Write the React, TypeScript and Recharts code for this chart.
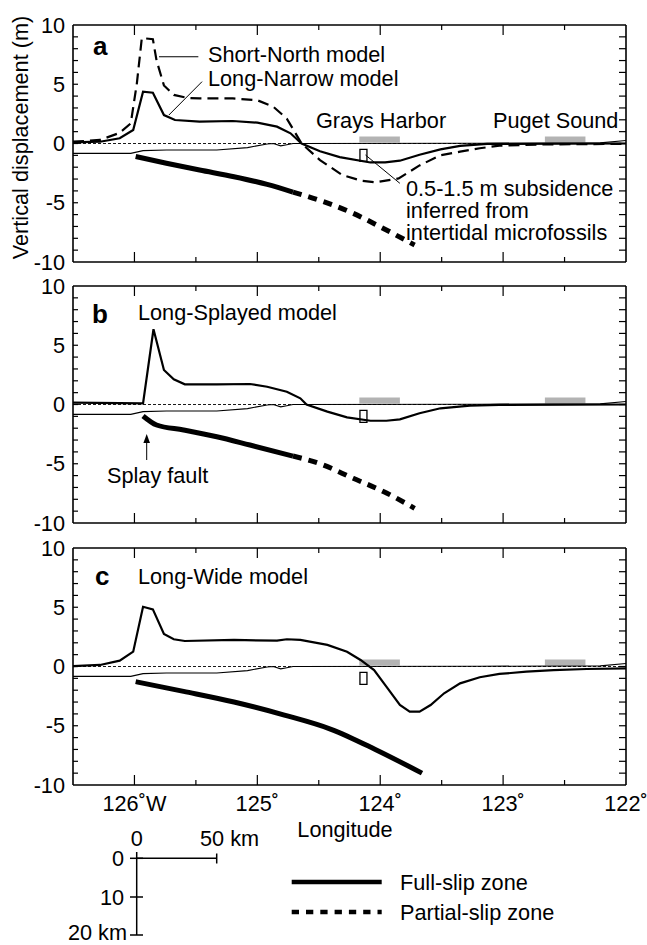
import React from "react";
import { ComposedChart, Line, XAxis, YAxis, ReferenceLine, ReferenceArea } from "recharts";

const FONT = "'Liberation Sans', Arial, Helvetica, sans-serif";
const FS = 21.7;

// axes
const lonDomain = [-126.5, -122];
const dispDomain = [-10, 10];
const lonMajor = [-126, -125, -124, -123, -122];
const lonMinor = [-125.5, -124.5, -123.5, -122.5];
const lonLabels: Record<string, string> = {
  "-126": "126˚W",
  "-125": "125˚",
  "-124": "124˚",
  "-123": "123˚",
  "-122": "122˚",
};
const dispTicks = [-10, -9, -8, -7, -6, -5, -4, -3, -2, -1, 0, 1, 2, 3, 4, 5, 6, 7, 8, 9, 10];

type Pt = [number, number]; // [longitude, vertical displacement m]

// panel a
const shortNorth: Pt[] = [
  [-126.5, 0.15], [-126.28, 0.3], [-126.12, 0.9], [-126.03, 1.7], [-125.98, 5.1], [-125.94, 8.9],
  [-125.85, 8.8], [-125.82, 7.0], [-125.76, 4.9], [-125.68, 4.1], [-125.57, 3.85], [-125.47, 3.8],
  [-125.2, 3.8], [-125.0, 3.65], [-124.87, 3.1], [-124.76, 2.1], [-124.64, 0.0], [-124.49, -1.4],
  [-124.31, -2.65], [-124.15, -3.15], [-124.04, -3.28], [-123.85, -2.95], [-123.68, -1.85],
  [-123.51, -1.0], [-123.35, -0.69], [-123.19, -0.4], [-123.03, -0.18], [-122.7, -0.08], [-122.0, -0.03],
];
const longNarrow: Pt[] = [
  [-126.5, 0.1], [-126.28, 0.15], [-126.12, 0.44], [-126.01, 1.14], [-125.93, 4.37], [-125.85, 4.29],
  [-125.76, 2.4], [-125.67, 1.98], [-125.47, 1.84], [-125.2, 1.9], [-125.0, 1.76], [-124.84, 1.42],
  [-124.73, 0.86], [-124.64, 0.0], [-124.49, -0.65], [-124.33, -1.15], [-124.08, -1.6], [-123.96, -1.6],
  [-123.84, -1.45], [-123.68, -0.95], [-123.51, -0.5], [-123.35, -0.2], [-123.13, -0.04], [-122.0, 0],
];
const faultFullA: Pt[] = [
  [-125.99, -1.1], [-125.74, -1.67], [-125.47, -2.24], [-125.19, -2.8], [-124.92, -3.45], [-124.71, -4.1],
];
const faultPartialA: Pt[] = [
  [-124.71, -4.1], [-124.45, -4.95], [-124.22, -5.89], [-123.95, -7.3], [-123.72, -8.57],
];

// panel b
const longSplayed: Pt[] = [
  [-126.5, 0.15], [-125.93, 0.1], [-125.845, 6.35], [-125.76, 2.91], [-125.68, 2.13], [-125.59, 1.7],
  [-125.33, 1.7], [-125.06, 1.73], [-124.92, 1.5], [-124.76, 1.08], [-124.65, 0.52], [-124.6, 0.0],
  [-124.43, -0.6], [-124.27, -1.08], [-124.08, -1.37], [-123.95, -1.37], [-123.84, -1.25],
  [-123.68, -0.74], [-123.51, -0.32], [-123.27, -0.1], [-123.03, -0.03], [-122.0, 0],
];
const faultFullB: Pt[] = [
  [-125.93, -0.97], [-125.82, -1.73], [-125.6, -2.15], [-125.33, -2.72], [-125.06, -3.42], [-124.71, -4.35],
];
const faultPartialB: Pt[] = [
  [-124.71, -4.35], [-124.49, -5.0], [-124.22, -6.23], [-123.97, -7.36], [-123.72, -8.76],
];

// panel c
const longWide: Pt[] = [
  [-126.5, 0.04], [-126.28, 0.13], [-126.12, 0.49], [-126.01, 1.25], [-125.93, 5.04], [-125.85, 4.82],
  [-125.76, 2.74], [-125.68, 2.3], [-125.59, 2.15], [-125.19, 2.24], [-124.84, 2.18], [-124.76, 2.3],
  [-124.65, 2.24], [-124.43, 1.82], [-124.27, 1.25], [-124.16, 0.55], [-124.05, -0.3], [-123.95, -1.7],
  [-123.84, -3.25], [-123.76, -3.81], [-123.68, -3.81], [-123.59, -3.25], [-123.48, -2.26],
  [-123.35, -1.42], [-123.19, -0.91], [-123.03, -0.63], [-122.81, -0.44], [-122.59, -0.3],
  [-122.32, -0.21], [-122.0, -0.15],
];
const faultFullC: Pt[] = [
  [-125.99, -1.28], [-125.6, -2.1], [-125.19, -3.0], [-124.78, -4.1], [-124.4, -5.3],
  [-124.04, -7.0], [-123.66, -9.0],
];

// shared thin line
const seafloor: Pt[] = [
  [-126.5, -0.83], [-126.03, -0.83], [-125.93, -0.6], [-125.74, -0.55], [-125.33, -0.55],
  [-125.08, -0.35], [-124.92, -0.04], [-124.87, 0], [-124.81, -0.2], [-124.76, -0.1], [-124.71, 0],
  [-123.19, 0.02], [-122.21, 0.05], [-122.0, 0.25],
];

// observation sites / subsidence box
const graysHarbor = [-124.17, -123.84];
const pugetSound = [-122.66, -122.33];
const siteBar = [0.08, 0.6];
const subsidenceLon = [-124.165, -124.108];
const subsidenceRange = [-1.5, -0.5];

const rows = (pts: Pt[]) => pts.map(([lon, v]) => ({ lon, v }));

// plot area is 553 x 237 px -> data units per pixel, for the inward tick marks
const LON_PER_PX = (lonDomain[1] - lonDomain[0]) / 553;
const DISP_PER_PX = (dispDomain[1] - dispDomain[0]) / 237;

const frame = { stroke: "#000", strokeWidth: 1.6 };
const tickFont = { fontSize: FS, fontFamily: FONT, fill: "#000" };
const txt = { fontFamily: FONT, fontSize: FS, fill: "#000" };

function series(pts: Pt[], width: number, dash?: string, curve: "linear" | "monotone" = "linear") {
  return (
    <Line
      data={rows(pts)}
      dataKey="v"
      type={curve}
      stroke="#000"
      strokeWidth={width}
      strokeDasharray={dash}
      dot={false}
      activeDot={false}
      isAnimationActive={false}
    />
  );
}

function tick(key: string, a: { x: number; y: number }, b: { x: number; y: number }) {
  return <ReferenceLine key={key} segment={[a, b]} stroke="#000" strokeWidth={1.2} ifOverflow="visible" />;
}

// inward tick marks on all four sides
function innerTicks() {
  const [x0, x1] = lonDomain;
  const [y0, y1] = dispDomain;
  const out: any[] = [];
  dispTicks
    .filter((v) => v > y0 && v < y1)
    .forEach((v) => {
      out.push(tick(`l${v}`, { x: x0, y: v }, { x: x0 + 5 * LON_PER_PX, y: v }));
      out.push(tick(`r${v}`, { x: x1, y: v }, { x: x1 - 7 * LON_PER_PX, y: v }));
    });
  [...lonMajor, ...lonMinor]
    .filter((v) => v > x0 && v < x1)
    .forEach((v) => {
      const len = (Number.isInteger(v) ? 10 : 5) * DISP_PER_PX;
      out.push(tick(`b${v}`, { x: v, y: y0 }, { x: v, y: y0 + len }));
      out.push(tick(`t${v}`, { x: v, y: y1 }, { x: v, y: y1 - len }));
    });
  return out;
}

function Panel({ top, height, bottomPad, labelled, children }: any) {
  return (
    <div style={{ position: "absolute", left: 0, top }}>
      <ComposedChart width={647} height={height} margin={{ top: 24, right: 20, bottom: bottomPad, left: 0 }}>
        <XAxis
          dataKey="lon"
          type="number"
          domain={lonDomain}
          ticks={lonMajor}
          interval={0}
          height={1}
          orientation="bottom"
          tickSize={0}
          tickMargin={10.6}
          tickLine={false}
          axisLine={frame}
          allowDataOverflow
          tick={labelled ? tickFont : false}
          tickFormatter={(v: number) => lonLabels[String(v)] ?? ""}
        />
        <XAxis
          xAxisId="top"
          dataKey="lon"
          type="number"
          domain={lonDomain}
          ticks={lonMajor}
          height={1}
          orientation="top"
          tickLine={false}
          axisLine={frame}
          allowDataOverflow
          tick={false}
        />
        <YAxis
          type="number"
          domain={dispDomain}
          ticks={dispTicks}
          interval={0}
          width={73}
          tickSize={0}
          tickMargin={8}
          tickLine={false}
          axisLine={frame}
          allowDataOverflow
          tick={tickFont}
          tickFormatter={(v: number) => (v % 5 === 0 ? String(v) : "")}
        />
        <YAxis
          yAxisId="right"
          orientation="right"
          type="number"
          domain={dispDomain}
          ticks={dispTicks}
          width={1}
          tickLine={false}
          axisLine={frame}
          allowDataOverflow
          tick={false}
        />
        <ReferenceArea x1={graysHarbor[0]} x2={graysHarbor[1]} y1={siteBar[0]} y2={siteBar[1]} fill="#b3b3b3" fillOpacity={1} stroke="none" />
        <ReferenceArea x1={pugetSound[0]} x2={pugetSound[1]} y1={siteBar[0]} y2={siteBar[1]} fill="#b3b3b3" fillOpacity={1} stroke="none" />
        <ReferenceLine y={0} stroke="#000" strokeWidth={0.9} strokeDasharray="3 2" />
        <ReferenceArea
          x1={subsidenceLon[0]}
          x2={subsidenceLon[1]}
          y1={subsidenceRange[0]}
          y2={subsidenceRange[1]}
          fill="none"
          fillOpacity={0}
          stroke="#000"
          strokeWidth={1.3}
        />
        {innerTicks()}
        {series(seafloor, 1.1)}
        {children}
      </ComposedChart>
    </div>
  );
}

export default function App() {
  return (
    <div style={{ position: "absolute", left: 0, top: 0, width: 647, height: 945, background: "#fff" }}>
      <Panel top={0} height={275} bottomPad={12} labelled={false}>
        {series(shortNorth, 2.2, "11 6")}
        {series(longNarrow, 2.2)}
        {series(faultFullA, 5, undefined, "monotone")}
        {series(faultPartialA, 5, "9 7", "monotone")}
        <ReferenceLine segment={[{ x: -125.8, y: 7.32 }, { x: -125.48, y: 7.32 }]} stroke="#000" strokeWidth={1} />
        <ReferenceLine segment={[{ x: -125.72, y: 2.4 }, { x: -125.45, y: 5.22 }]} stroke="#000" strokeWidth={1} />
        <ReferenceLine segment={[{ x: -124.12, y: -0.97 }, { x: -123.84, y: -3.36 }]} stroke="#000" strokeWidth={1} />
      </Panel>
      <Panel top={261} height={275} bottomPad={12} labelled={false}>
        {series(longSplayed, 2.2)}
        {series(faultFullB, 5, undefined, "monotone")}
        {series(faultPartialB, 5, "9 7", "monotone")}
      </Panel>
      <Panel top={523} height={422} bottomPad={159} labelled={true}>
        {series(longWide, 2.2)}
        {series(faultFullC, 5, undefined, "monotone")}
      </Panel>

      <svg width={647} height={945} style={{ position: "absolute", left: 0, top: 0, pointerEvents: "none" }}>
        <text x={28} y={137.5} transform="rotate(-90 28 137.5)" textAnchor="middle" {...txt}>
          Vertical displacement (m)
        </text>

        <text x={93} y={55} {...txt} fontSize={26} fontWeight="bold">a</text>
        <text x={208} y={62} {...txt}>Short-North model</text>
        <text x={208} y={86} {...txt}>Long-Narrow model</text>
        <text x={316} y={128} {...txt}>Grays Harbor</text>
        <text x={493} y={128} {...txt}>Puget Sound</text>
        <text x={406} y={196} {...txt}>0.5-1.5 m subsidence</text>
        <text x={406} y={218} {...txt}>inferred from</text>
        <text x={406} y={240} {...txt}>intertidal microfossils</text>

        <text x={92} y={323} {...txt} fontSize={26} fontWeight="bold">b</text>
        <text x={138} y={319.5} {...txt}>Long-Splayed model</text>
        <line x1={146.7} y1={460} x2={146.7} y2={440} stroke="#000" strokeWidth={1} />
        <path d="M146.7 434 L143.4 443 L150 443 Z" fill="#000" />
        <text x={107} y={483} {...txt}>Splay fault</text>

        <text x={95} y={585} {...txt} fontSize={26} fontWeight="bold">c</text>
        <text x={138} y={583.5} {...txt}>Long-Wide model</text>

        <text x={345} y={837} textAnchor="middle" {...txt}>Longitude</text>

        {/* scale bar */}
        <g stroke="#000" strokeWidth={1.5}>
          <line x1={136.7} y1={858.3} x2={216.7} y2={858.3} />
          <line x1={216.7} y1={853.5} x2={216.7} y2={863.5} />
          <line x1={136.7} y1={852} x2={136.7} y2={935} />
          <line x1={130} y1={858.3} x2={143} y2={858.3} />
          <line x1={130} y1={897} x2={143} y2={897} />
          <line x1={130} y1={935} x2={143} y2={935} />
        </g>
        <text x={136.7} y={846} textAnchor="middle" {...txt}>0</text>
        <text x={200} y={846} {...txt}>50 km</text>
        <text x={124} y={866} textAnchor="end" {...txt}>0</text>
        <text x={124} y={905} textAnchor="end" {...txt}>10</text>
        <text x={127} y={940} textAnchor="end" {...txt}>20 km</text>

        {/* legend */}
        <line x1={291.7} y1={882} x2={381.7} y2={882} stroke="#000" strokeWidth={4.7} />
        <line x1={291.7} y1={912} x2={381.7} y2={912} stroke="#000" strokeWidth={4.7} strokeDasharray="7.3 7" />
        <text x={400} y={889.5} {...txt}>Full-slip zone</text>
        <text x={400} y={919.5} {...txt}>Partial-slip zone</text>
      </svg>
    </div>
  );
}
